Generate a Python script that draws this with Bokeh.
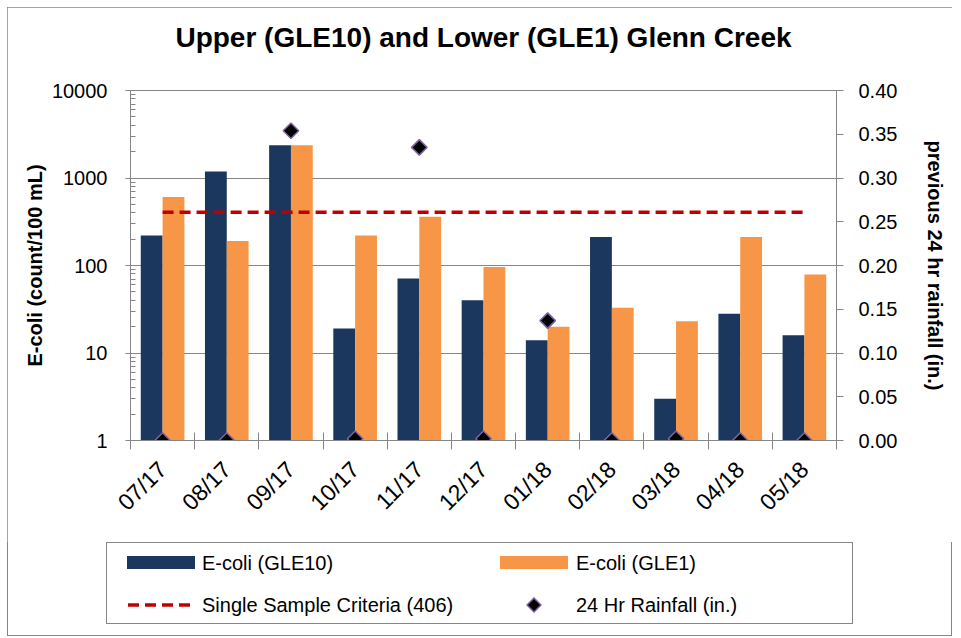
import math
from bokeh.plotting import figure
from bokeh.layouts import column
from bokeh.models import (Range1d, LinearAxis, LinearScale, FixedTicker, NumeralTickFormatter,
                          PrintfTickFormatter, ColumnDataSource, Div, Title)
from bokeh.transform import dodge
from bokeh.embed import file_html
from bokeh.resources import INLINE

# ---- data ----
months = ["07/17", "08/17", "09/17", "10/17", "11/17", "12/17",
          "01/18", "02/18", "03/18", "04/18", "05/18"]
ecoli_gle10 = [220, 1190, 2370, 19, 71, 40, 14, 212, 3, 28, 16]
ecoli_gle1 = [605, 190, 2370, 220, 360, 96, 20, 33, 23, 212, 79]
rainfall = [0.0, 0.0, 0.354, 0.002, 0.335, 0.002, 0.137, 0.0, 0.002, 0.0, 0.0]
criteria = 406
left_ticks = [1, 10, 100, 1000, 10000]
right_ticks = [0.00, 0.05, 0.10, 0.15, 0.20, 0.25, 0.30, 0.35, 0.40]
legend_labels = ["E-coli (GLE10)", "E-coli (GLE1)", "Single Sample Criteria (406)",
                 "24 Hr Rainfall (in.)"]
title_text = "Upper (GLE10) and Lower (GLE1) Glenn Creek"

FONT = "Liberation Sans"
GRAY = "#868686"
NAVY = "#1b375e"
ORANGE = "#f79646"
RED = "#c00000"
PURPLE = "#8064a2"

n = len(months)
centers = [i + 0.5 for i in range(n)]
src = ColumnDataSource(dict(x=centers, m=months, g10=ecoli_gle10, g1=ecoli_gle1, rain=rainfall))

W, H1, H2 = 945, 535, 94
p = figure(width=W, height=H1, x_range=Range1d(0, n), y_range=Range1d(1, 10000),
           y_axis_type="log", output_backend="svg", toolbar_location=None,
           min_border_left=123, min_border_right=116, min_border_top=83, min_border_bottom=102,
           background_fill_color="white", border_fill_color="white")
p.extra_y_ranges = {"rain": Range1d(0, 0.4)}
p.extra_y_scales = {"rain": LinearScale()}

p.outline_line_color = GRAY
p.outline_line_width = 1

# title: a blank spacer next to the frame, then the real title above it
p.title.text = ""
p.add_layout(Title(text=" ", text_font_size="10px", standoff=25), "above")
p.add_layout(Title(text=title_text, align="center", text_font=FONT, text_font_size="28px",
                   text_font_style="bold", text_color="black", standoff=0, offset=-8), "above")

# bars
r1 = p.vbar(x=dodge("x", -0.17, range=p.x_range), top="g10", bottom=1, width=0.34,
            source=src, fill_color=NAVY, line_color=None)
r2 = p.vbar(x=dodge("x", 0.17, range=p.x_range), top="g1", bottom=1, width=0.34,
            source=src, fill_color=ORANGE, line_color=None)

# criteria line
rl = p.line(x=[centers[0], centers[-1]], y=[criteria, criteria], line_color=RED,
            line_width=3.5, line_dash="11 6")

# rainfall diamonds
rd = p.scatter(x="x", y="rain", source=src, y_range_name="rain", marker="square",
               angle=math.pi / 4, size=11, fill_color="black", line_color=PURPLE,
               line_width=1.5)

# left axis
ya = p.yaxis[0]
ya.ticker = FixedTicker(ticks=left_ticks,
                        minor_ticks=[k * t for t in left_ticks[:-1] for k in range(2, 10)])
ya.formatter = PrintfTickFormatter(format="%d")
ya.axis_label = "E-coli (count/100 mL)"
ya.axis_label_text_font = FONT
ya.axis_label_text_font_size = "20px"
ya.axis_label_text_font_style = "bold"
ya.axis_label_text_color = "black"
ya.axis_label_standoff = 3
ya.major_label_text_font = FONT
ya.major_label_text_font_size = "20px"
ya.major_label_text_color = "black"
ya.major_label_standoff = 18
ya.major_tick_in = 0
ya.major_tick_out = 5
ya.minor_tick_in = 5
ya.minor_tick_out = 0
ya.axis_line_color = GRAY
ya.major_tick_line_color = GRAY
ya.minor_tick_line_color = GRAY

p.ygrid.grid_line_color = GRAY
p.ygrid.grid_line_width = 1
p.xgrid.grid_line_color = None

# right axis
ra = LinearAxis(y_range_name="rain", ticker=FixedTicker(ticks=right_ticks, minor_ticks=[]),
                formatter=NumeralTickFormatter(format="0.00"))
ra.axis_label = "previous 24 hr rainfall (in.)"
ra.axis_label_text_font = FONT
ra.axis_label_text_font_size = "20px"
ra.axis_label_text_font_style = "bold"
ra.axis_label_text_color = "black"
ra.axis_label_standoff = 24
ra.major_label_text_font = FONT
ra.major_label_text_font_size = "20px"
ra.major_label_text_color = "black"
ra.major_label_standoff = 15
ra.major_tick_in = 0
ra.major_tick_out = 7
ra.axis_line_color = GRAY
ra.major_tick_line_color = GRAY
p.add_layout(ra, "right")

# bottom axis: boundary ticks
xa = p.xaxis[0]
xa.ticker = FixedTicker(ticks=list(range(n + 1)), minor_ticks=[])
xa.major_label_overrides = {i: "" for i in range(n + 1)}
xa.major_label_text_font_size = "0px"
xa.major_label_standoff = 0
xa.major_tick_in = 8
xa.major_tick_out = 9
xa.axis_line_color = GRAY
xa.major_tick_line_color = GRAY

# bottom axis: month labels at centers
la = LinearAxis(ticker=FixedTicker(ticks=centers, minor_ticks=[]),
                major_label_overrides={c: m for c, m in zip(centers, months)},
                major_label_orientation=math.pi / 4)
la.axis_line_color = None
la.major_tick_line_color = None
la.minor_tick_line_color = None
la.major_tick_in = 0
la.major_tick_out = 0
la.major_label_text_font = FONT
la.major_label_text_font_size = "23px"
la.major_label_text_color = "black"
la.major_label_standoff = 16
p.add_layout(la, "below")

# ---- legend (HTML block under the plot) ----
def key_svg(kind):
    if kind == "bar_navy":
        return f'<svg width="68" height="13"><rect x="0" y="0" width="68" height="13" fill="{NAVY}"/></svg>'
    if kind == "bar_orange":
        return f'<svg width="68" height="13"><rect x="0" y="0" width="68" height="13" fill="{ORANGE}"/></svg>'
    if kind == "dash":
        return (f'<svg width="68" height="6"><line x1="1" y1="3" x2="68" y2="3" stroke="{RED}" '
                f'stroke-width="3.5" stroke-dasharray="11 6"/></svg>')
    return (f'<svg width="16" height="16"><polygon points="8,1 15,8 8,15 1,8" fill="black" '
            f'stroke="{PURPLE}" stroke-width="1.5"/></svg>')

# (key kind, key left, key top, text left, text centre) within the legend block
slots = [("bar_navy", 120, 14, 195, 21), ("bar_orange", 493, 14, 569, 21),
         ("dash", 120, 60, 195, 63), ("diamond", 519, 55, 569, 63)]
parts = [f'<div style="position:relative;width:{W}px;height:{H2}px;font-family:\'{FONT}\';'
         f'color:black;">',
         f'<div style="position:absolute;left:99px;top:0px;width:747px;height:82px;'
         f'border:1.5px solid {GRAY};box-sizing:border-box;"></div>']
for label, (kind, kx, ky, tx, tc) in zip(legend_labels, slots):
    parts.append(f'<div style="position:absolute;left:{kx}px;top:{ky}px;line-height:0;">'
                 f'{key_svg(kind)}</div>')
    parts.append(f'<div style="position:absolute;left:{tx}px;top:{tc - 12}px;font-size:20px;'
                 f'line-height:24px;white-space:nowrap;">{label}</div>')
parts.append('</div>')
legend_div = Div(text="".join(parts), width=W, height=H2, margin=(0, 0, 0, 0))

root = column(p, legend_div, spacing=0)
root.styles = {"margin-left": "7px", "margin-top": "7px",
               "outline": "1px solid #868686", "outline-offset": "-1px"}

open("out.html", "w").write(file_html(root, INLINE))
